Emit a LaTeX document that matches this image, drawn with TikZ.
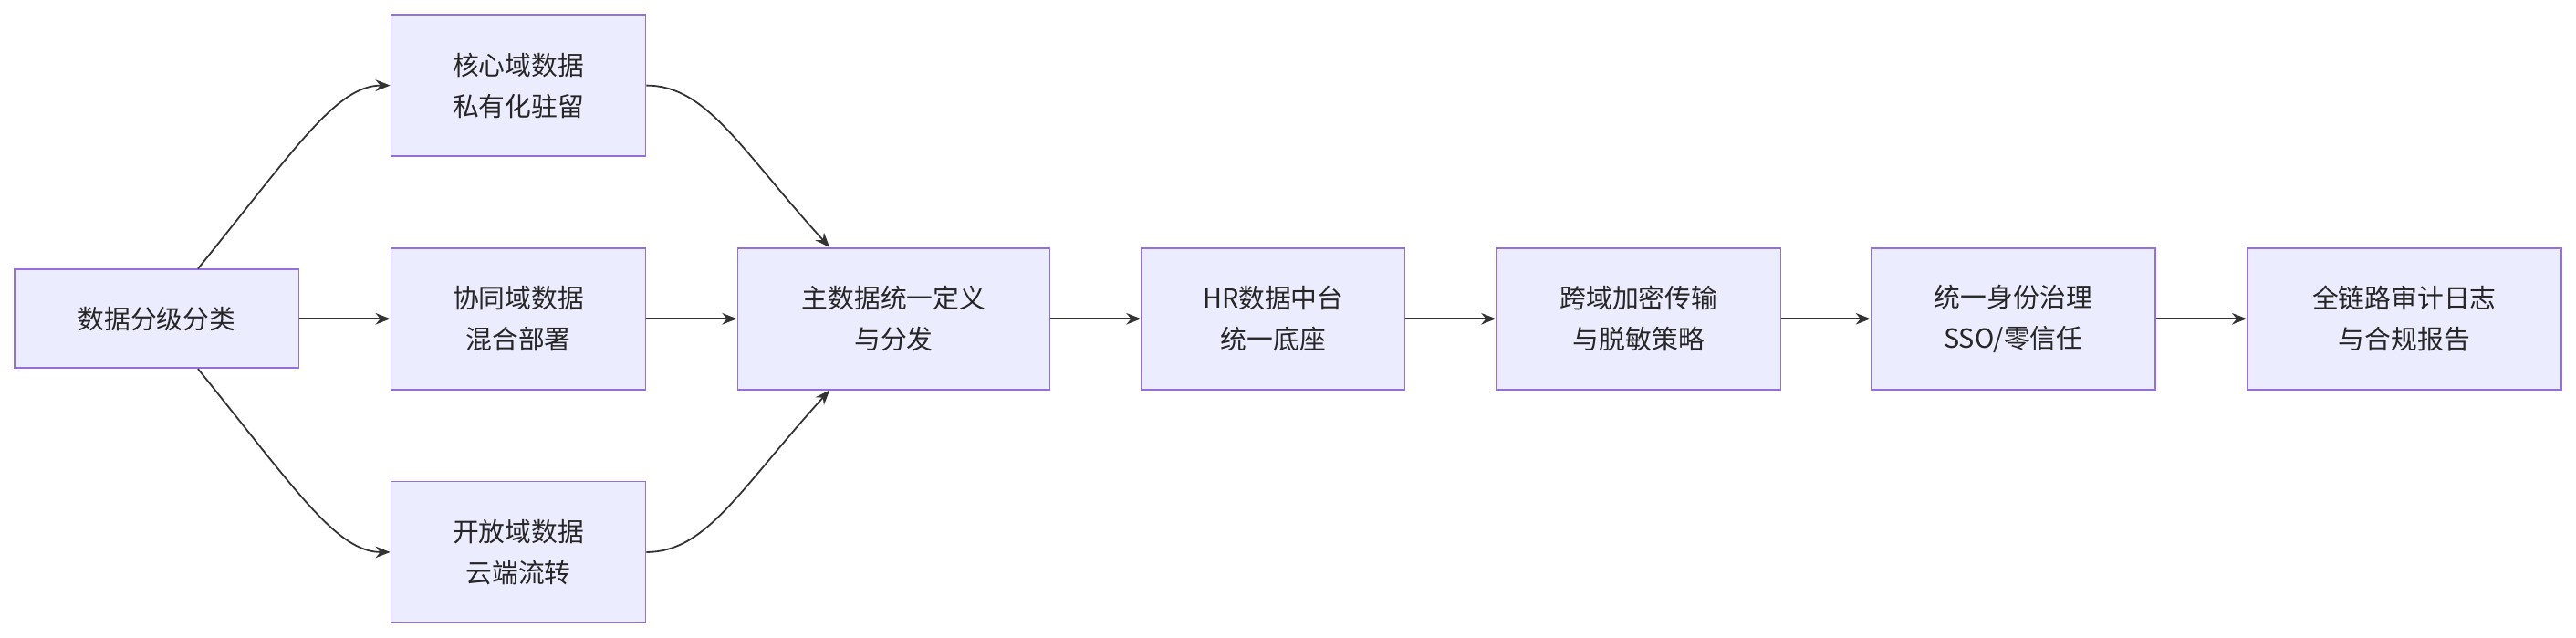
\documentclass[tikz,border=0pt]{standalone}
\usepackage{fontspec}
\setmainfont{Noto Sans CJK SC}
\usetikzlibrary{arrows.meta}
\definecolor{boxfill}{HTML}{ECECFF}
\definecolor{boxline}{HTML}{9370DB}
\definecolor{linkcol}{HTML}{333333}
\tikzset{
  box/.style={draw=boxline, fill=boxfill, line width=0.9pt, align=center,
    font=\fontsize{16}{25}\selectfont, text=black!85, inner sep=0pt},
  link/.style={draw=linkcol, line width=1pt, -{Stealth[length=9pt,width=7pt]}}
}
\begin{document}
\begin{tikzpicture}[x=1pt, y=-1pt]
	\useasboundingbox (0,0) rectangle (1568,388);
	%ji chu
	\node[box, minimum width=173pt, minimum height=60pt] (fenji) at (95.5,194) {数据分级分类};

	%san ge yu
	\node[box, minimum width=155pt, minimum height=86pt] (hexin) at (315.5,52) {核心域数据\\私有化驻留};
	\node[box, minimum width=155pt, minimum height=86pt] (xietong) at (315.5,194) {协同域数据\\混合部署};
	\node[box, minimum width=155pt, minimum height=86pt] (kaifang) at (315.5,336) {开放域数据\\云端流转};

	%zhu xian
	\node[box, minimum width=190pt, minimum height=86pt] (zhushuju) at (544,194) {主数据统一定义\\与分发};
	\node[box, minimum width=160pt, minimum height=86pt] (zhongtai) at (775,194) {HR数据中台\\统一底座};
	\node[box, minimum width=173pt, minimum height=86pt] (jiami) at (997.5,194) {跨域加密传输\\与脱敏策略};
	\node[box, minimum width=173pt, minimum height=86pt] (shenfen) at (1225.5,194) {统一身份治理\\SSO/零信任};
	\node[box, minimum width=191pt, minimum height=86pt] (shenji) at (1463.5,194) {全链路审计日志\\与合规报告};

	%lian xian
	\draw[link] ([xshift=25pt]fenji.north) .. controls (180,90) and (205,52) .. (hexin.west);
	\draw[link] (fenji.east) -- (xietong.west);
	\draw[link] ([xshift=25pt]fenji.south) .. controls (180,298) and (205,336) .. (kaifang.west);
	\draw[link] (hexin.east) .. controls (430,52) and (450,90) .. ([xshift=-39pt]zhushuju.north);
	\draw[link] (xietong.east) -- (zhushuju.west);
	\draw[link] (kaifang.east) .. controls (430,336) and (450,298) .. ([xshift=-39pt]zhushuju.south);
	\draw[link] (zhushuju.east) -- (zhongtai.west);
	\draw[link] (zhongtai.east) -- (jiami.west);
	\draw[link] (jiami.east) -- (shenfen.west);
	\draw[link] (shenfen.east) -- (shenji.west);
\end{tikzpicture}
\end{document}
